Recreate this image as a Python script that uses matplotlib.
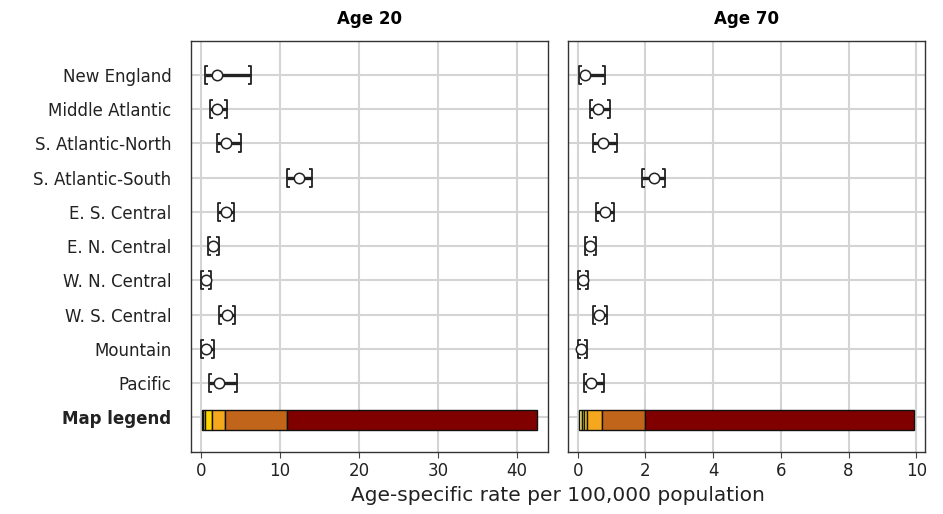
import numpy as np
import matplotlib
matplotlib.use('Agg')
import matplotlib.pyplot as plt
from matplotlib.path import Path
from matplotlib.patches import Rectangle

# Datos
regiones = ['New England', 'Middle Atlantic', 'S. Atlantic-North', 'S. Atlantic-South',
            'E. S. Central', 'E. N. Central', 'W. N. Central', 'W. S. Central',
            'Mountain', 'Pacific']

tasa_20 = [2.0, 2.1, 3.2, 12.45, 3.2, 1.6, 0.63, 3.3, 0.63, 2.35]
inf_20 = [0.55, 1.18, 2.0, 10.9, 2.23, 0.88, 0.04, 2.3, 0.08, 1.05]
sup_20 = [6.3, 3.3, 5.06, 14.1, 4.25, 2.3, 1.27, 4.34, 1.72, 4.55]

tasa_70 = [0.22, 0.61, 0.74, 2.24, 0.79, 0.37, 0.15, 0.64, 0.1, 0.38]
inf_70 = [0.03, 0.37, 0.44, 1.90, 0.54, 0.2, 0.02, 0.44, 0.0, 0.17]
sup_70 = [0.79, 0.96, 1.15, 2.57, 1.06, 0.54, 0.3, 0.86, 0.27, 0.77]

# cortes de la leyenda del mapa
cortes_20 = [0.12, 0.33, 0.59, 1.47, 3.08, 10.88, 42.53]
cortes_70 = [0.03, 0.12, 0.18, 0.28, 0.71, 1.99, 9.94]
colores_leyenda = ['#FFF27A', '#FFE41C', '#FFD500', '#F5A81E', '#C1651A', '#800000']

titulos = ['Age 20', 'Age 70']

# Configuracion de grafico
fig_sz_x = 9.43
fig_sz_y = 5.14
fig_dpi = 100

# marcadores tipo corchete
corchete_izq = Path([(0.35, 1), (0, 1), (0, -1), (0.35, -1)],
                    [Path.MOVETO, Path.LINETO, Path.LINETO, Path.LINETO])
corchete_der = Path([(-0.35, 1), (0, 1), (0, -1), (-0.35, -1)],
                    [Path.MOVETO, Path.LINETO, Path.LINETO, Path.LINETO])

fig = plt.figure(figsize=(fig_sz_x, fig_sz_y), dpi=fig_dpi, facecolor='w')
ax1 = fig.add_axes([191/943, 61.7/514, 357/943, 411.3/514])
ax2 = fig.add_axes([568/943, 61.7/514, 357/943, 411.3/514])

y_pos = np.arange(len(regiones))
y_leyenda = 10.0

paneles = (
    (ax1, tasa_20, inf_20, sup_20, cortes_20, (-1.23, 43.9), [0, 10, 20, 30, 40]),
    (ax2, tasa_70, inf_70, sup_70, cortes_70, (-0.29, 10.26), [0, 2, 4, 6, 8, 10]),
)

for ii, (ax, tasa, inf, sup, cortes, lims, xt) in enumerate(paneles):
    for yy, lo, hi, val in zip(y_pos, inf, sup, tasa):
        ax.plot([lo, hi], [yy, yy], color='#222222', linewidth=2.4, zorder=3,
                solid_capstyle='butt')
        ax.plot(lo, yy, marker=corchete_izq, markersize=13, color='#222222',
                markeredgewidth=1.3, fillstyle='none', linestyle='none', zorder=4)
        ax.plot(hi, yy, marker=corchete_der, markersize=13, color='#222222',
                markeredgewidth=1.3, fillstyle='none', linestyle='none', zorder=4)
        ax.plot(val, yy, marker='o', markersize=7.5, markerfacecolor='white',
                markeredgecolor='#222222', markeredgewidth=1.1, linestyle='none', zorder=5)

    for jj in range(len(colores_leyenda)):
        ax.add_patch(Rectangle((cortes[jj], y_leyenda + 0.08 - 0.29),
                               cortes[jj + 1] - cortes[jj], 0.58,
                               facecolor=colores_leyenda[jj], edgecolor='#111111',
                               linewidth=1.0, zorder=3))

    ax.set_xlim(lims)
    ax.set_ylim(11.02, -0.99)
    ax.set_xticks(xt)
    ax.set_yticks(list(y_pos) + [y_leyenda])
    ax.grid(True, color='#d4d4d4', linewidth=1.5, zorder=0)
    ax.set_axisbelow(True)
    ax.tick_params(axis='y', length=0, pad=14)
    ax.tick_params(axis='x', length=4, color='#444444', labelsize=12,
                   labelcolor='#222222', pad=3)
    for sp in ax.spines.values():
        sp.set_color('#333333')
        sp.set_linewidth(1.0)
    ax.set_title(titulos[ii], fontsize=12, fontweight='bold',
                 family=['Liberation Sans Narrow', 'DejaVu Sans'], pad=12)

ax1.set_yticklabels(regiones + ['Map legend'], fontsize=12, color='#222222')
ax1.get_yticklabels()[-1].set_fontweight('bold')
ax2.set_yticklabels([])

fig.text(558/943, 0.018, 'Age-specific rate per 100,000 population',
         ha='center', va='bottom', fontsize=14.5, color='#222222')

plt.savefig('out.png', dpi=fig_dpi)
